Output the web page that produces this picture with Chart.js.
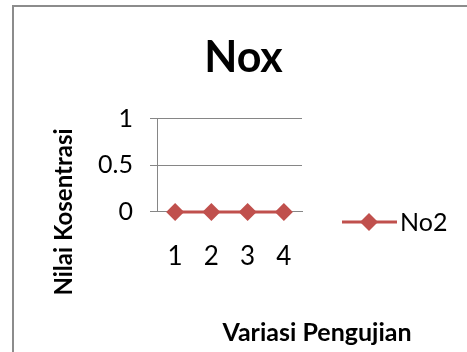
<!DOCTYPE html>
<html>
<head>
<meta charset="utf-8">
<script src="https://cdn.jsdelivr.net/npm/chart.js@4"></script>
<style>
    body { margin: 0; background: #fff; overflow: hidden; }
    #wrap { position: relative; width: 467px; height: 352px; }
    #frame { position: absolute; left: 12px; top: 5px; width: 500px; height: 400px; border: 2px solid #8c8c8c; }
    canvas { position: absolute; left: 0; top: 0; }
</style>
</head>
<body>
<div id="wrap">
    <div id="frame"></div>
    <canvas id="myChart" width="467" height="352"></canvas>
</div>
<script>
const categories = ['1', '2', '3', '4'];
const no2Values = [0, 0, 0, 0];
const yTicks = [0, 0.5, 1];

const xTitle = 'Variasi Pengujian';
const yTitle = 'Nilai Kosentrasi';

const lineColor = '#c0504d';
const gridColor = '#868686';
const fontFamily = 'Lato, "Open Sans", sans-serif';

// legend + axis titles drawn by hand, Excel puts them off-centre
const sideText = {
    id: 'sideText',
    afterDraw(chart) {
        const ctx = chart.ctx;
        const ds = chart.data.datasets[0];
        const y = 222;
        ctx.save();
        ctx.strokeStyle = ds.borderColor;
        ctx.lineWidth = ds.borderWidth;
        ctx.beginPath();
        ctx.moveTo(342, y);
        ctx.lineTo(397, y);
        ctx.stroke();
        ctx.fillStyle = ds.pointBackgroundColor;
        ctx.beginPath();
        ctx.moveTo(369 - 9, y);
        ctx.lineTo(369, y - 9);
        ctx.lineTo(369 + 9, y);
        ctx.lineTo(369, y + 9);
        ctx.closePath();
        ctx.fill();
        ctx.fillStyle = '#000';
        ctx.textBaseline = 'middle';
        ctx.font = '25px ' + fontFamily;
        ctx.fillText(ds.label, 400, y + 1);

        ctx.font = 'bold 25px ' + fontFamily;
        ctx.textAlign = 'center';
        ctx.fillText(xTitle, 317, 333);

        ctx.font = 'bold 24px ' + fontFamily;
        ctx.translate(64, 212);
        ctx.rotate(-Math.PI / 2);
        ctx.fillText(yTitle, 0, 0);
        ctx.restore();
    }
};

const ctx = document.getElementById('myChart').getContext('2d');
const myChart = new Chart(ctx, {
    type: 'line',
    data: {
        labels: categories,
        datasets: [{
            label: 'No2',
            data: no2Values,
            borderColor: lineColor,
            backgroundColor: lineColor,
            borderWidth: 3,
            pointStyle: 'rectRot',
            pointRadius: 9,
            pointBackgroundColor: lineColor,
            pointBorderColor: lineColor,
            pointBorderWidth: 0,
            clip: false,
            tension: 0
        }]
    },
    options: {
        responsive: false,
        animation: false,
        layout: {
            padding: { left: 20, right: 0, top: 0, bottom: 0 }
        },
        plugins: {
            legend: { display: false },
            tooltip: { enabled: false },
            title: {
                display: true,
                text: 'Nox',
                color: '#000',
                font: { family: fontFamily, size: 43, weight: 'bold' },
                padding: { top: 32, bottom: 35 }
            }
        },
        scales: {
            x: {
                offset: true,
                grid: { display: false, drawTicks: false },
                border: { display: true, color: gridColor },
                ticks: { color: '#000', padding: 29, font: { family: fontFamily, size: 26 } },
                afterFit(scale) { scale.height = 140; }
            },
            y: {
                min: 0,
                max: 1,
                afterBuildTicks(scale) {
                    scale.ticks = yTicks.map(v => ({ value: v }));
                },
                grid: { color: gridColor, tickLength: 7 },
                border: { display: true, color: gridColor },
                ticks: {
                    color: '#000',
                    padding: 17,
                    font: { family: fontFamily, size: 25 },
                    callback: v => String(v)
                },
                afterFit(scale) { scale.width = 137; }
            },
            // empty right-hand axis only keeps room for the legend
            side: {
                position: 'right',
                grid: { display: false },
                border: { display: false },
                ticks: { display: false },
                afterFit(scale) { scale.width = 165; }
            }
        }
    },
    plugins: [sideText]
});
</script>
</body>
</html>
